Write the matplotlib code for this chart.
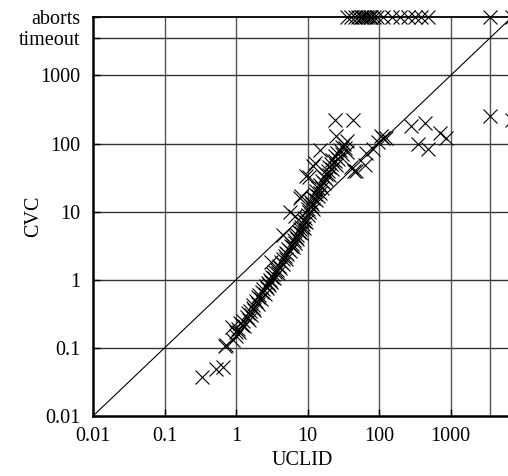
import numpy as np
import matplotlib
matplotlib.use("Agg")
import matplotlib.pyplot as plt

TIMEOUT = 3600
ABORTS = 7200

# run times in seconds (UCLID, CVC); TIMEOUT / ABORTS are the special rows/cols
uclid = [
    0.33, 0.53, 0.65, 0.70, 0.73, 0.87, 0.91, 1.01, 1.13,
    1.0, 1.05, 1.1, 1.2, 1.25, 1.3, 1.4, 1.45, 1.5, 1.55, 1.6, 1.7, 1.75, 1.8, 1.9,
    2.0, 2.0, 2.1, 2.2, 2.3, 2.4, 2.5, 2.6, 2.7, 2.8, 2.9, 3.0, 3.1, 3.2, 3.3, 3.4,
    3.5, 3.7, 3.8, 4.0, 4.1, 4.3, 4.5, 4.6, 4.8, 5.0, 5.0, 5.2, 5.4, 5.6, 5.8, 6.0,
    6.2, 6.4, 6.6, 6.8, 7.0, 7.2, 7.5, 7.8, 8.0, 8.2, 8.5, 8.8, 9.0, 9.3, 9.6,
    10, 10, 10.5, 11, 11, 11.5, 12, 12, 12.5, 13, 13, 14, 14, 15, 15, 16, 16, 17, 17,
    18, 18, 19, 20, 20, 21, 22, 22, 24, 24, 25, 26, 27, 28, 30, 30, 32, 33, 35, 36,
    3.1, 4.5, 5.6, 6.6, 7.8, 8.2, 9.6, 10.6, 11.8, 12.6, 15, 25, 24, 43,
    48, 63, 45, 40, 66, 82, 96, 105, 113, 126,
    283, 434, 350, 482, 702, 870, TIMEOUT, ABORTS,
    35, 40, 46, 50, 55, 57, 62, 66, 70, 75, 78, 85, 92, 113, 149, 194, 253, 314, 390, 482,
    TIMEOUT, ABORTS,
]
cvc = [
    0.038, 0.049, 0.052, 0.105, 0.11, 0.20, 0.13, 0.17, 0.23,
    0.15, 0.19, 0.17, 0.22, 0.25, 0.21, 0.28, 0.32, 0.26, 0.35, 0.30, 0.38, 0.42, 0.36, 0.48,
    0.44, 0.55, 0.60, 0.52, 0.66, 0.72, 0.62, 0.80, 0.75, 0.90, 0.85, 1.0, 0.92, 1.1, 1.2, 1.05,
    1.3, 1.4, 1.25, 1.6, 1.5, 1.8, 1.7, 2.0, 2.2, 2.0, 2.5, 2.4, 2.8, 2.6, 3.1, 3.4,
    3.0, 3.8, 3.5, 4.2, 4.6, 4.0, 5.0, 5.5, 4.8, 6.0, 6.5, 5.8, 7.2, 8.0, 7.0,
    9.0, 11, 10, 12, 14, 13, 16, 11, 18, 15, 20, 22, 17, 25, 19, 28, 22, 32, 26,
    36, 30, 40, 45, 34, 50, 42, 58, 55, 65, 48, 72, 60, 80, 70, 90, 100, 85, 110, 75,
    1.8, 4.6, 9.8, 8.6, 16, 16.8, 33, 32, 46, 52, 81, 128, 225, 225,
    39, 49, 40, 45, 73, 82, 105, 128, 120, 120,
    180, 201, 97, 82, 144, 121, 252, 225,
    ABORTS, ABORTS, ABORTS, ABORTS, ABORTS, ABORTS, ABORTS, ABORTS, ABORTS, ABORTS,
    ABORTS, ABORTS, ABORTS, ABORTS, ABORTS, ABORTS, ABORTS, ABORTS, ABORTS, ABORTS,
    ABORTS, ABORTS,
]

xticks = [0.01, 0.1, 1, 10, 100, 1000]
xlabels = ["0.01", "0.1", "1", "10", "100", "1000"]
yticks = [0.01, 0.1, 1, 10, 100, 1000, TIMEOUT, ABORTS]
ylabels = ["0.01", "0.1", "1", "10", "100", "1000", "timeout", "aborts"]

plt.rcParams["font.family"] = ["Liberation Serif", "DejaVu Serif"]

fig = plt.figure(figsize=(5.08, 4.76), dpi=100)
# right edge of the axes lies just outside the picture (cropped like the original)
ax = fig.add_axes([93 / 508, 60 / 476, 419 / 508, 399 / 476])
ax.set_xscale("log")
ax.set_yscale("log")
ax.set_xlim(0.01, ABORTS)
ax.set_ylim(0.01, ABORTS)

# grid lines at decades and at timeout
for v in [0.1, 1, 10, 100, 1000, TIMEOUT]:
    ax.axvline(v, color="#555555", lw=1.0, zorder=1)
    ax.axhline(v, color="#333333", lw=1.0, zorder=1)

ax.plot([0.01, ABORTS], [0.01, ABORTS], color="black", lw=0.8, zorder=2)

ax.plot(uclid, cvc, linestyle="none", marker="x", markersize=9.5,
        markeredgewidth=0.8, color="black", clip_on=False, zorder=3)

ax.set_xticks(xticks)
ax.set_xticklabels(xlabels)
ax.set_yticks(yticks)
ax.set_yticklabels(ylabels)
ax.minorticks_off()
ax.tick_params(direction="in", length=5, width=1.0, labelsize=14.5, color="black")
ax.tick_params(axis="x", pad=8)
ax.tick_params(axis="y", pad=9)

for side in ["left", "bottom"]:
    ax.spines[side].set_linewidth(1.8)
ax.spines["top"].set_linewidth(1.3)
ax.spines["right"].set_visible(False)

ax.set_xlabel("UCLID", fontsize=14.5)
ax.set_ylabel("CVC", fontsize=14.5)
ax.xaxis.set_label_coords(209 / 419, -35 / 399)
ax.yaxis.set_label_coords(-50 / 419, 0.5)

fig.savefig("out.png", dpi=100)
